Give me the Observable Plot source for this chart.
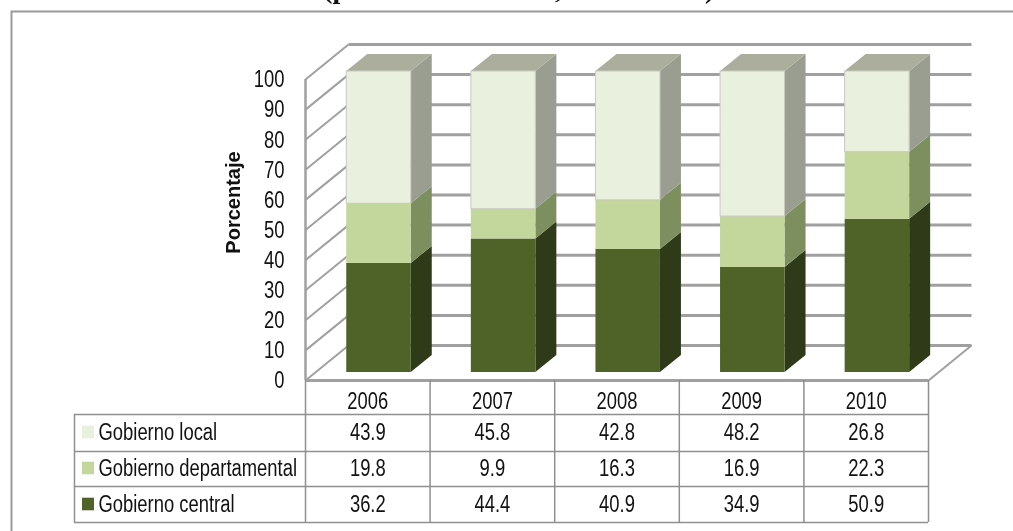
<!DOCTYPE html>
<html><head><meta charset="utf-8">
<script src="https://cdn.jsdelivr.net/npm/d3@7"></script>
<script src="https://cdn.jsdelivr.net/npm/@observablehq/plot@0.6"></script>
<style>
html,body{margin:0;padding:0;background:#fff;overflow:hidden}
#wrap{position:relative;width:1013px;height:531px;overflow:hidden}
#title{position:absolute;left:323px;top:-27px;font:bold 28.2px/32px "Liberation Serif",serif;white-space:nowrap;color:#111;filter:blur(0.4px)}
svg{display:block}
#chart svg{filter:blur(0.45px)}
</style></head><body>
<div id="wrap"><div id="title">(periodo 2006-2010; datos en %)</div><div id="chart"></div></div>
<script>
const years = ["2006","2007","2008","2009","2010"];
const central = [36.2,44.4,40.9,34.9,50.9];
const departamental = [19.8,9.9,16.3,16.9,22.3];
const local = [43.9,45.8,42.8,48.2,26.8];
const yTicks = [0,10,20,30,40,50,60,70,80,90,100];
const seriesNames = ["Gobierno central","Gobierno departamental","Gobierno local"];
const seriesValues = [central,departamental,local];
const frontColors = ["#4f6228","#c3d69b","#e9f0dd"];
const sideColors = ["#2f3b18","#7e8f5f","#9a9e90"];
const topColor = "#abae9d";
const gridColor = "#a0a0a0", tableColor = "#8f8f8f";

// helpers: pixel layout of the pseudo-3D box in scale units
const pxX = 124.6, pxY = 3.01;
const X = p => -0.5 + (p-305)/pxX, Y = p => (380-p)/pxY;
const wallDx = 43/pxX, wallDy = 35/pxY;
const barW = 64.5/pxX, barOx = 11.2/pxX, barOy = 8/pxY, barDx = 21/pxX, barDy = 17/pxY;
const font = '"Liberation Sans",sans-serif';

const segs = [];
years.forEach((yr,i)=>{
  const tot = d3.sum(seriesValues,s=>s[i]); let c = 0;
  seriesValues.forEach((s,k)=>{
    const a = c/tot*100; c += s[i]; const b = c/tot*100;
    const L = i - barW/2 + barOx, R = L + barW;
    segs.push({i,k,L,R,a:a+barOy,b:b+barOy});
  });
});
const sidePts = segs.flatMap(s=>[
  {id:s.i+"-"+s.k,k:s.k,i:s.i,x:s.R,y1:s.a,y2:s.b},
  {id:s.i+"-"+s.k,k:s.k,i:s.i,x:s.R+barDx,y1:s.a+barDy,y2:s.b+barDy}]);
const tops = segs.filter(s=>s.k==2).flatMap(s=>[
  {id:s.i,x1:s.L,x2:s.R,y:s.b},{id:s.i,x1:s.L+barDx,x2:s.R+barDx,y:s.b+barDy}]);

const marks = [
  Plot.frame({stroke:"#9a9a9a",strokeWidth:2}),
  // walls
  Plot.link(yTicks,{x1:-0.5,x2:-0.5+wallDx,y1:d=>d,y2:d=>d+wallDy,stroke:gridColor,strokeWidth:2}),
  Plot.link(yTicks,{x1:-0.5+wallDx,x2:4.5+wallDx,y1:d=>d+wallDy,y2:d=>d+wallDy,stroke:gridColor,strokeWidth:3}),
  Plot.ruleX([-0.5],{y1:0,y2:100,stroke:gridColor,strokeWidth:2.5}),
  Plot.ruleY([0],{x1:-0.5,x2:4.5,stroke:gridColor,strokeWidth:3}),
  Plot.link([0],{x1:4.5,x2:4.5+wallDx,y1:0,y2:wallDy,stroke:gridColor,strokeWidth:2}),
];
// bars
[0,1,2].forEach(k=>{
  marks.push(Plot.areaY(sidePts.filter(d=>d.k==k),{x:"x",y1:"y1",y2:"y2",z:"id",fill:sideColors[k]}));
});
marks.push(Plot.area(tops,{x1:"x1",x2:"x2",y1:"y",y2:"y",z:"id",fill:topColor}));
[0,1,2].forEach(k=>{
  marks.push(Plot.rect(segs.filter(d=>d.k==k),{x1:"L",x2:"R",y1:"a",y2:"b",fill:frontColors[k]}));
});
// outline of the light segment
marks.push(Plot.rect(segs.filter(d=>d.k==2),{x1:"L",x2:"R",y1:"a",y2:"b",fill:"none",stroke:"#c9c9c0",strokeWidth:1}));

// table
const rowLines = [414,451,486,522].map(Y);
const colLines = [-0.5,0.5,1.5,2.5,3.5,4.5];
const rowCenters = [432,468,504].map(Y);
const rowOrder = [2,1,0];
const cells = rowOrder.flatMap((k,r)=>years.map((yr,i)=>({i,y:rowCenters[r],t:seriesValues[k][i].toFixed(1)})));
const legendRows = rowOrder.map((k,r)=>({k,name:seriesNames[k],y:rowCenters[r],c:frontColors[k]}));
marks.push(
  Plot.ruleY(rowLines,{x1:X(74),x2:4.5,stroke:tableColor,strokeWidth:1.5}),
  Plot.ruleX(colLines,{y1:0,y2:Y(522),stroke:tableColor,strokeWidth:1.5}),
  Plot.ruleX([X(74)],{y1:Y(414),y2:Y(522),stroke:tableColor,strokeWidth:1.5}),
  Plot.text(years,{x:(d,i)=>i,y:Y(401),text:d=>d,fontSize:23,fontFamily:font,fill:"#111",className:"narrow"}),
  Plot.text(cells,{x:"i",y:"y",text:"t",fontSize:23,fontFamily:font,fill:"#111",className:"narrow"}),
  Plot.rect(legendRows,{x1:X(82),x2:X(94),y1:d=>d.y+6.3/pxY,y2:d=>d.y-6.3/pxY,fill:"c"}),
  Plot.text(legendRows,{x:X(98),y:"y",text:"name",textAnchor:"start",fontSize:23,fontFamily:font,fill:"#111",className:"narrow"}),
  Plot.axisY(yTicks,{x:-0.5,anchor:"left",tickSize:0,tickPadding:21,fontSize:23,fontFamily:font,fill:"#111",label:null,tickFormat:d=>d,className:"narrow",dy:0.5}),
  Plot.text(["Porcentaje"],{x:X(233),y:Y(202),rotate:-90,text:d=>d,fontSize:20,fontWeight:"bold",fontFamily:font,fill:"#111"})
);

const chart = Plot.plot({
  width:1013,height:531,
  marginLeft:11,marginTop:11,marginRight:-5,marginBottom:-5,
  x:{type:"linear",domain:[-0.5,4.5],range:[305,928],axis:null},
  y:{type:"linear",domain:[0,100],range:[380,79],axis:null},
  style:{background:"transparent",overflow:"visible"},
  marks
});
document.getElementById("chart").appendChild(chart);
// the reference uses a condensed face: squeeze the regular glyphs to the same set width
chart.querySelectorAll("g.narrow text, .narrow text").forEach(t=>{
  const w = t.getComputedTextLength();
  t.setAttribute("textLength", (w*0.8).toFixed(1));
  t.setAttribute("lengthAdjust","spacingAndGlyphs");
});
</script></body></html>
